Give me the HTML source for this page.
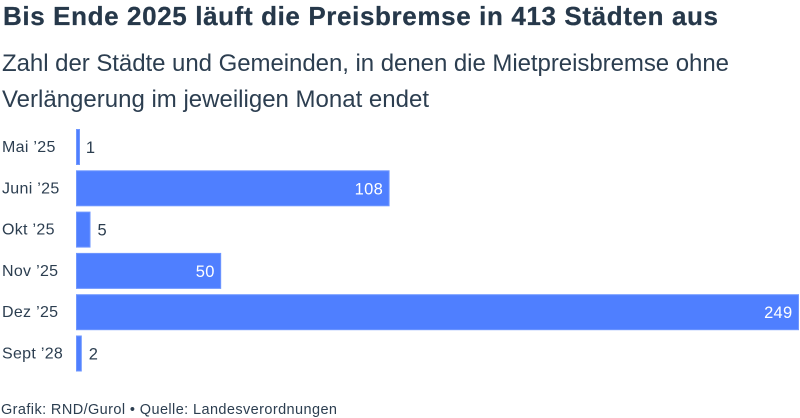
<!DOCTYPE html>
<html lang="de">
<head>
<meta charset="utf-8">
<title>Bis Ende 2025 läuft die Preisbremse in 413 Städten aus</title>
<style>
html,body{margin:0;padding:0;background:#fff;width:800px;height:418px;overflow:hidden}
svg{display:block;font-family:"Liberation Sans",sans-serif;fill:#2c3e50}
</style>
</head>
<body>
<svg id="chart" width="800" height="418" viewBox="0 0 800 418" xmlns="http://www.w3.org/2000/svg">
  <text x="3" y="25" font-size="26" font-weight="700" fill="#26384a" stroke="#26384a" stroke-width="0.25" textLength="715" lengthAdjust="spacing">Bis Ende 2025 läuft die Preisbremse in 413 Städten aus</text>
  <text x="2" y="71" font-size="24" textLength="727" lengthAdjust="spacing">Zahl der Städte und Gemeinden, in denen die Mietpreisbremse ohne</text>
  <text x="2" y="107" font-size="24" textLength="427" lengthAdjust="spacing">Verlängerung im jeweiligen Monat endet</text>
  <g id="rows"></g>
  <text x="1" y="414" font-size="14.5" textLength="336" lengthAdjust="spacing">Grafik: RND/Gurol • Quelle: Landesverordnungen</text>
</svg>
<script>
const categories = ["Mai ’25", "Juni ’25", "Okt ’25", "Nov ’25", "Dez ’25", "Sept ’28"];
const values = [1, 108, 5, 50, 249, 2];
const domainMax = 249;

const NS = "http://www.w3.org/2000/svg";
const rows = document.getElementById("rows");
const x = v => 76 + (v / domainMax) * 723;
const y = i => 129 + i * 41.3;
const barHeight = 36;

function addText(parent, content, px, py, size) {
  const t = document.createElementNS(NS, "text");
  t.textContent = content;
  t.setAttribute("x", px);
  t.setAttribute("y", py);
  t.setAttribute("font-size", size);
  parent.appendChild(t);
  return t;
}

categories.forEach((cat, i) => {
  const label = addText(rows, cat, 2, y(i) + 23, 16);
  
  
  label.setAttribute("letter-spacing", "0.3");

  const v = values[i];
  const bar = document.createElementNS(NS, "rect");
  bar.setAttribute("x", x(0) + 0.5);
  bar.setAttribute("y", y(i) + 0.5);
  bar.setAttribute("width", Math.max(x(v) - x(0) - 1, 3));
  bar.setAttribute("height", barHeight - 1);
  bar.setAttribute("fill", "#4f7fff");
  bar.setAttribute("stroke", "#6f97ff");
  bar.setAttribute("stroke-width", "1");
  
  
  rows.appendChild(bar);

  const inside = x(v) - x(0) > 60;
  const val = addText(rows, String(v), inside ? x(v) - 6.5 : x(v) + 7, y(i) + 24, 16.5);
  
  
  val.setAttribute("letter-spacing", "0.3");
  if (inside) {
    val.setAttribute("text-anchor", "end");
    val.setAttribute("fill", "#ffffff");
  }
});
</script>
</body>
</html>
